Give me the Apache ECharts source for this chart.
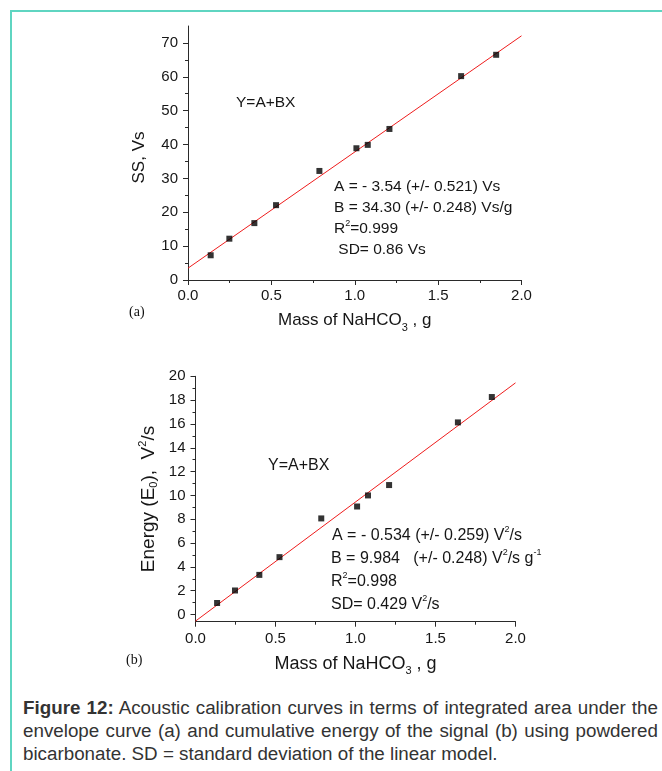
<!DOCTYPE html>
<html>
<head>
<meta charset="utf-8">
<script src="https://cdn.jsdelivr.net/npm/echarts@6/dist/echarts.min.js"></script>
<style>
html,body{margin:0;padding:0;background:#fff;}
#wrap{position:relative;width:662px;height:771px;overflow:hidden;background:#fff;}
#frame{position:absolute;left:10px;top:10px;width:720px;height:820px;border-left:2px solid #5fd5c1;border-top:2px solid #5fd5c1;}
#chart{position:absolute;left:0;top:0;width:662px;height:690px;}
#cap{position:absolute;left:23px;top:696px;width:635px;font-family:"Liberation Sans",Arial,sans-serif;font-size:18.8px;line-height:23px;color:#333;}
#cap .j{text-align:justify;text-align-last:justify;}
.lab{position:absolute;font-family:"Liberation Serif","Times New Roman",serif;font-size:14px;color:#111;}
</style>
</head>
<body>
<div id="wrap">
<div id="frame"></div>
<div id="chart"></div>
<div class="lab" style="left:129px;top:304px;">(a)</div>
<div class="lab" style="left:126px;top:652px;">(b)</div>
<div id="cap">
<div class="j"><b>Figure 12:</b> Acoustic calibration curves in terms of integrated area under the</div>
<div class="j">envelope curve (a) and cumulative energy of the signal (b) using powdered</div>
<div>bicarbonate. SD = standard deviation of the linear model.</div>
</div>
</div>
<script>
// ---- data ----
const massA   = [0.136, 0.248, 0.398, 0.528, 0.788, 1.010, 1.078, 1.208, 1.638, 1.848];
const ssA     = [7.3, 12.2, 16.8, 22.1, 32.2, 38.9, 39.9, 44.6, 60.2, 66.5];
const fitAx   = [0, 2.0];
const fitAy   = [3.5, 72.1];

const massB   = [0.135, 0.247, 0.399, 0.525, 0.786, 1.010, 1.078, 1.210, 1.640, 1.852];
const energyB = [0.97, 2.02, 3.33, 4.82, 8.07, 9.07, 10.0, 10.87, 16.13, 18.26];
const fitBx   = [0, 2.0];
const fitBy   = [-0.55, 19.45];

const xTicks  = [0, 0.5, 1.0, 1.5, 2.0];
const xMinor  = [0.25, 0.75, 1.25, 1.75];
const yTicksA = [0, 10, 20, 30, 40, 50, 60, 70];
const yMinorA = [5, 15, 25, 35, 45, 55, 65];
const yTicksB = [0, 2, 4, 6, 8, 10, 12, 14, 16, 18, 20];
const yMinorB = [1, 3, 5, 7, 9, 11, 13, 15, 17, 19];

const annA = ['Y=A+BX', 'A = - 3.54 (+/- 0.521) Vs', 'B = 34.30 (+/- 0.248) Vs/g', 'R{sup|2}=0.999', ' SD= 0.86 Vs'];
const annB = ['Y=A+BX', 'A = - 0.534 (+/- 0.259) V{sup|2}/s', 'B = 9.984   (+/- 0.248) V{sup|2}/s g{sup|-1}', 'R{sup|2}=0.998', 'SD= 0.429 V{sup|2}/s'];

// ---- styling helpers ----
const FF = '"Liberation Sans", Arial, sans-serif';
const TXT = '#161616';
const AX = '#2a2a2a';
const pair = (xs, ys) => xs.map((x, i) => [x, ys[i]]);

function xAxes(grid, labelMargin, nameGap, nameSize) {
  return [
    { type: 'value', gridIndex: grid, min: 0, max: 2, position: 'bottom',
      axisLine: { show: true, onZero: false, lineStyle: { color: AX, width: 1 } },
      axisTick: { show: true, inside: false, length: 5, customValues: xTicks, lineStyle: { color: AX } },
      axisLabel: { show: true, customValues: xTicks, margin: labelMargin, color: TXT, fontSize: 15, fontFamily: FF,
                   formatter: v => v.toFixed(1) },
      splitLine: { show: false },
      name: 'Mass of NaHCO{sub|3} , g', nameLocation: 'middle', nameGap: nameGap,
      nameTextStyle: { color: TXT, fontSize: nameSize, fontFamily: FF, lineHeight: 25,
        rich: { sub: { fontSize: 11, lineHeight: 11, verticalAlign: 'bottom', color: TXT, fontFamily: FF } } } },
    { type: 'value', gridIndex: grid, min: 0, max: 2, position: 'bottom',
      axisLine: { show: false, onZero: false },
      axisTick: { show: true, inside: false, length: 3, customValues: xMinor, lineStyle: { color: AX } },
      axisLabel: { show: false }, splitLine: { show: false } }
  ];
}

function yAxes(grid, min, max, ticks, minor, name, nameGap, nameSize, namePad) {
  return [
    { type: 'value', gridIndex: grid, min: min, max: max, position: 'left',
      axisLine: { show: true, onZero: false, lineStyle: { color: AX, width: 1 } },
      axisTick: { show: true, inside: false, length: 5, customValues: ticks, lineStyle: { color: AX } },
      axisLabel: { show: true, customValues: ticks, margin: 10, color: TXT, fontSize: 15, fontFamily: FF },
      splitLine: { show: false },
      name: name, nameLocation: 'middle', nameGap: nameGap, nameRotate: 90,
      nameTextStyle: { color: TXT, fontSize: nameSize, fontFamily: FF, lineHeight: 22, padding: namePad,
        rich: {
          sub: { fontSize: 11, lineHeight: 11, verticalAlign: 'bottom', color: TXT, fontFamily: FF },
          sup: { fontSize: 11, lineHeight: 11, verticalAlign: 'top', color: TXT, fontFamily: FF }
        } } },
    { type: 'value', gridIndex: grid, min: min, max: max, position: 'left',
      axisLine: { show: false, onZero: false },
      axisTick: { show: true, inside: false, length: 3, customValues: minor, lineStyle: { color: AX } },
      axisLabel: { show: false }, splitLine: { show: false } }
  ];
}

function annText(lines, xs, ys, size) {
  return lines.map((t, i) => ({
    type: 'text', x: xs[i], y: ys[i], silent: true,
    style: { text: t, fill: TXT, fontSize: size, fontFamily: FF, lineHeight: 20,
      align: 'left', verticalAlign: 'middle',
      rich: { sup: { fontSize: 9, lineHeight: 9, verticalAlign: 'top', fill: TXT, fontFamily: FF } } }
  }));
}

const chart = echarts.init(document.getElementById('chart'), null, { renderer: 'canvas' });
chart.setOption({
  animation: false,
  backgroundColor: 'transparent',
  grid: [
    { left: 188, top: 26, width: 333.5, height: 254 },
    { left: 195.5, top: 376.3, width: 320, height: 245.4 }
  ],
  xAxis: [].concat(xAxes(0, 8, 28, 17), xAxes(1, 10, 30, 18)),
  yAxis: [].concat(
    yAxes(0, 0, 75, yTicksA, yMinorA, 'SS, Vs', 35, 17, [0, 9, 0, 0]),
    yAxes(1, -0.6, 20, yTicksB, yMinorB, 'Energy (E{sub|0}),  V{sup|2}/s', 36, 19, [0, 0, 0, 0])
  ),
  series: [
    { type: 'line', xAxisIndex: 0, yAxisIndex: 0, data: pair(fitAx, fitAy), symbol: 'none',
      lineStyle: { color: '#ee1c1c', width: 1 }, z: 2, silent: true },
    { type: 'scatter', xAxisIndex: 0, yAxisIndex: 0, data: pair(massA, ssA), symbol: 'rect', symbolSize: 6,
      itemStyle: { color: '#000' }, z: 3, silent: true },
    { type: 'line', xAxisIndex: 2, yAxisIndex: 2, data: pair(fitBx, fitBy), symbol: 'none',
      lineStyle: { color: '#ee1c1c', width: 1 }, z: 2, silent: true },
    { type: 'scatter', xAxisIndex: 2, yAxisIndex: 2, data: pair(massB, energyB), symbol: 'rect', symbolSize: 6,
      itemStyle: { color: '#000' }, z: 3, silent: true }
  ],
  graphic: [].concat(
    annText(annA, [236, 334, 334, 334, 334], [103, 187, 208, 229, 250], 15.5),
    annText(annB, [268, 332, 331, 331, 331], [466, 535.5, 558.3, 581.5, 604.3], 16)
  )
});
</script>
</body>
</html>
